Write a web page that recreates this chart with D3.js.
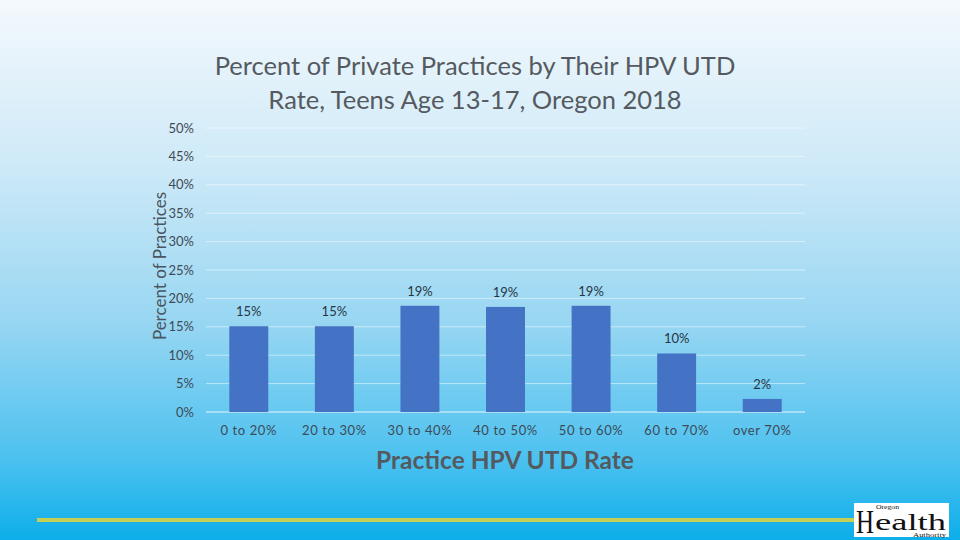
<!DOCTYPE html>
<html><head><meta charset="utf-8">
<script src="https://cdn.jsdelivr.net/npm/d3@7"></script>
<style>html,body{margin:0;padding:0;overflow:hidden}</style>
</head><body>
<script>
const categories = ["0 to 20%","20 to 30%","30 to 40%","40 to 50%","50 to 60%","60 to 70%","over 70%"];
const values = [15.1, 15.1, 18.7, 18.5, 18.7, 10.3, 2.3];
const valueLabels = ["15%","15%","19%","19%","19%","10%","2%"];
const yTicks = [0,5,10,15,20,25,30,35,40,45,50];
const titleLines = ["Percent of Private Practices by Their HPV UTD","Rate, Teens Age 13-17, Oregon 2018"];

const W=960,H=540;
const svg=d3.select("body").append("svg").attr("width",W).attr("height",H);
const defs=svg.append("defs");
const g=defs.append("linearGradient").attr("id","bg").attr("x1",0).attr("y1",0).attr("x2",0).attr("y2",1);
g.append("stop").attr("offset","0%").attr("stop-color","#f4f9fd");
g.append("stop").attr("offset","30%").attr("stop-color","#cfeaf8");
g.append("stop").attr("offset","60%").attr("stop-color","#97d6f2");
g.append("stop").attr("offset","85%").attr("stop-color","#4cc1ef");
g.append("stop").attr("offset","100%").attr("stop-color","#0caeea");
svg.append("rect").attr("width",W).attr("height",H).attr("fill","url(#bg)");

const font="Lato, 'Open Sans', sans-serif";
const x=d3.scaleBand().domain(categories).range([206,805]).paddingInner(0.545).paddingOuter(0.2725);
const y=d3.scaleLinear().domain([0,50]).range([412,128]);

// gridlines
svg.append("g").selectAll("line").data(yTicks).join("line")
  .attr("x1",206).attr("x2",805).attr("y1",d=>y(d)).attr("y2",d=>y(d))
  .attr("stroke","#ffffff").attr("stroke-opacity",d=>d===0?0.85:0.5).attr("stroke-width",1);

// y axis
const ya=svg.append("g").attr("transform","translate(194,0)")
  .call(d3.axisLeft(y).tickValues(yTicks).tickFormat(d=>d+"%").tickSize(0).tickPadding(0));
ya.select(".domain").remove();
ya.selectAll("text").attr("font-family",font).attr("font-size",13).attr("fill","#404a55");

// x axis
const xa=svg.append("g").attr("transform","translate(0,412)")
  .call(d3.axisBottom(x).tickSize(0).tickPadding(14));
xa.select(".domain").remove();
xa.selectAll("text").attr("font-family",font).attr("font-size",13).attr("fill","#3c4a58").attr("letter-spacing","0.6px");

// bars
svg.append("g").selectAll("rect").data(values).join("rect")
  .attr("x",(d,i)=>x(categories[i])).attr("width",x.bandwidth())
  .attr("y",d=>y(d)).attr("height",d=>y(0)-y(d)).attr("fill","#4472c4");

// labels
svg.append("g").selectAll("text").data(values).join("text")
  .attr("x",(d,i)=>x(categories[i])+x.bandwidth()/2).attr("y",d=>y(d)-10)
  .attr("text-anchor","middle").attr("font-family",font).attr("font-size",13).attr("fill","#263645")
  .text((d,i)=>valueLabels[i]);

// title
svg.append("g").selectAll("text").data(titleLines).join("text")
  .attr("x",475).attr("y",(d,i)=>75+i*34).attr("text-anchor","middle")
  .attr("font-family",font).attr("font-size",25.5).attr("fill","#555a60").text(d=>d);

// y title
svg.append("text").attr("transform","translate(166,266) rotate(-90)").attr("text-anchor","middle")
  .attr("font-family",font).attr("font-size",17).attr("fill","#4a5560").text("Percent of Practices");

// x title
svg.append("text").attr("x",505).attr("y",469).attr("text-anchor","middle")
  .attr("font-family",font).attr("font-weight","bold").attr("font-size",24.5).attr("fill","#555a60").text("Practice HPV UTD Rate");

// footer line
svg.append("rect").attr("x",37).attr("y",518).attr("width",818).attr("height",4).attr("fill","#c6cf55");

// logo
const serif="'Liberation Serif', serif";
svg.append("rect").attr("x",854).attr("y",503).attr("width",95).attr("height",34).attr("fill","#ffffff");
svg.append("text").attr("x",856).attr("y",533).attr("font-family",serif).attr("font-size",34).attr("fill","#111")
  .attr("textLength",18).attr("lengthAdjust","spacingAndGlyphs").text("H");
svg.append("text").attr("x",875).attr("y",530).attr("font-family",serif).attr("font-size",24).attr("fill","#111")
  .attr("textLength",71).attr("lengthAdjust","spacingAndGlyphs").text("ealth");
svg.append("text").attr("x",876).attr("y",509).attr("font-family",serif).attr("font-size",7).attr("fill","#111")
  .attr("textLength",23).attr("lengthAdjust","spacingAndGlyphs").text("Oregon");
svg.append("text").attr("x",913).attr("y",537).attr("font-family",serif).attr("font-size",5.5).attr("fill","#111")
  .attr("textLength",33).attr("lengthAdjust","spacingAndGlyphs").text("Authority");
</script>
</body></html>
